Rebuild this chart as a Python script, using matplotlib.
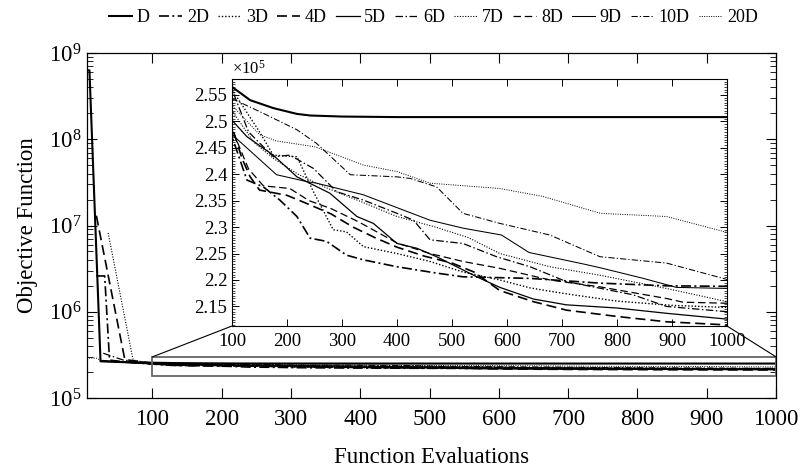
import matplotlib
matplotlib.use("Agg")
import matplotlib.pyplot as plt
import matplotlib.ticker as plticker
from matplotlib.patches import Rectangle, ConnectionPatch

plt.rcParams['font.family'] = ['Liberation Serif', 'DejaVu Serif']
plt.rcParams['mathtext.fontset'] = 'custom'
plt.rcParams['mathtext.rm'] = 'Liberation Serif'
plt.rcParams['mathtext.it'] = 'Liberation Serif:italic'

# function evaluations / objective values
xD = [5, 9, 25, 60, 100, 133, 175, 218, 242, 300, 400, 1000]
yD = [6.3e8, 6.3e8, 2.66e5, 2.6e5, 2.565e5, 2.54e5, 2.525e5, 2.514e5, 2.511e5, 2.509e5, 2.508e5, 2.508e5]

x2D = [19, 31, 38, 60, 100, 127, 157, 187, 218, 242, 272, 308, 339, 400, 436, 472, 520, 642, 769, 890, 1000]
y2D = [2.6e6, 2.6e6, 2.75e5, 2.62e5, 2.471e5, 2.389e5, 2.376e5, 2.351e5, 2.32e5, 2.279e5, 2.273e5,
       2.247e5, 2.238e5, 2.225e5, 2.219e5, 2.213e5, 2.206e5, 2.203e5, 2.194e5, 2.189e5, 2.188e5]

x3D = [25, 60, 100, 125, 150, 175, 218, 248, 284, 308, 339, 400, 460, 520, 587, 642, 700, 800, 900, 1000]
y3D = [2.68e5, 2.6e5, 2.56e5, 2.52e5, 2.48e5, 2.436e5, 2.433e5, 2.367e5, 2.295e5, 2.291e5, 2.263e5,
       2.25e5, 2.235e5, 2.215e5, 2.2e5, 2.185e5, 2.175e5, 2.16e5, 2.152e5, 2.148e5]

x4D = [19, 60, 100, 118, 133, 150, 200, 235, 280, 320, 360, 400, 450, 500, 540, 587, 648, 708, 800, 890, 1000]
y4D = [1.3e7, 2.8e5, 2.49e5, 2.43e5, 2.395e5, 2.37e5, 2.36e5, 2.345e5, 2.325e5, 2.3e5, 2.28e5,
       2.262e5, 2.245e5, 2.232e5, 2.215e5, 2.18e5, 2.159e5, 2.143e5, 2.131e5, 2.121e5, 2.115e5]

x5D = [25, 60, 100, 127, 175, 218, 278, 327, 357, 400, 436, 472, 520, 545, 587, 648, 708, 800, 890, 1000]
y5D = [2.68e5, 2.6e5, 2.502e5, 2.471e5, 2.436e5, 2.395e5, 2.364e5, 2.32e5, 2.307e5, 2.269e5,
       2.26e5, 2.244e5, 2.219e5, 2.206e5, 2.186e5, 2.164e5, 2.153e5, 2.147e5, 2.137e5, 2.126e5]

x6D = [29, 58, 100, 130, 175, 205, 248, 290, 339, 400, 430, 460, 520, 581, 642, 708, 829, 890, 1000]
y6D = [3.3e5, 2.75e5, 2.56e5, 2.48e5, 2.433e5, 2.436e5, 2.411e5, 2.367e5, 2.351e5, 2.326e5,
       2.313e5, 2.276e5, 2.269e5, 2.244e5, 2.225e5, 2.197e5, 2.172e5, 2.15e5, 2.14e5]

x7D = [36, 72, 100, 140, 175, 220, 270, 330, 400, 470, 530, 587, 678, 769, 890, 1000]
y7D = [8.2e6, 2.75e5, 2.52e5, 2.46e5, 2.43e5, 2.4e5, 2.375e5, 2.35e5, 2.32e5, 2.3e5, 2.28e5,
       2.25e5, 2.225e5, 2.209e5, 2.184e5, 2.159e5]

x8D = [25, 60, 100, 130, 157, 205, 240, 280, 330, 400, 460, 520, 587, 678, 769, 890, 920, 1000]
y8D = [2.7e5, 2.62e5, 2.485e5, 2.41e5, 2.378e5, 2.373e5, 2.35e5, 2.335e5, 2.31e5, 2.27e5, 2.25e5,
       2.235e5, 2.222e5, 2.2e5, 2.187e5, 2.165e5, 2.158e5, 2.156e5]

x9D = [25, 60, 100, 181, 236, 254, 339, 412, 460, 520, 590, 640, 740, 770, 848, 908, 1000]
y9D = [2.7e5, 2.58e5, 2.475e5, 2.399e5, 2.386e5, 2.383e5, 2.361e5, 2.332e5, 2.313e5, 2.298e5,
       2.285e5, 2.252e5, 2.23e5, 2.223e5, 2.203e5, 2.186e5, 2.184e5]

x10D = [25, 60, 100, 157, 218, 254, 315, 400, 424, 472, 520, 587, 678, 769, 890, 1000]
y10D = [2.7e5, 2.6e5, 2.543e5, 2.515e5, 2.484e5, 2.458e5, 2.399e5, 2.395e5, 2.392e5, 2.376e5,
        2.326e5, 2.307e5, 2.285e5, 2.244e5, 2.232e5, 2.201e5]

x20D = [5, 19, 25, 60, 100, 150, 180, 250, 340, 400, 460, 587, 665, 770, 890, 1000]
y20D = [2.9e5, 2.9e5, 2.75e5, 2.62e5, 2.53e5, 2.475e5, 2.463e5, 2.452e5, 2.417e5, 2.405e5,
        2.383e5, 2.373e5, 2.358e5, 2.326e5, 2.32e5, 2.29e5]

labels = ['D', '2D', '3D', '4D', '5D', '6D', '7D', '8D', '9D', '10D', '20D']
xs = [xD, x2D, x3D, x4D, x5D, x6D, x7D, x8D, x9D, x10D, x20D]
ys = [yD, y2D, y3D, y4D, y5D, y6D, y7D, y8D, y9D, y10D, y20D]

solid = '-'
dashdot = (0, (6, 2, 1.2, 2))
dotted = (0, (1, 1.4))
dashed = (0, (6, 3))
styles = [solid, dashdot, dotted, dashed] * 2 + [solid, dashdot, dotted]
widths = [1.5, 1.2, 1.0, 1.2, 0.9, 0.9, 0.8, 0.9, 0.75, 0.75, 0.7]

fig = plt.figure(figsize=(8.04, 4.70), dpi=100)
ax = fig.add_axes([0.1078, 0.1532, 0.8574, 0.734])

for x, y, lab, ls, lw in zip(xs, ys, labels, styles, widths):
    ax.plot(x, y, color='k', ls=ls, lw=lw, label=lab)

ax.set_yscale('log')
ax.set_xlim(5, 1000)
ax.set_ylim(1e5, 1e9)
ax.set_xticks(range(100, 1001, 100))
ax.yaxis.set_major_locator(plticker.LogLocator(base=10, numticks=10))
ax.yaxis.set_minor_locator(plticker.LogLocator(base=10, subs=range(2, 10), numticks=20))
ax.yaxis.set_minor_formatter(plticker.NullFormatter())
ax.tick_params(which='both', direction='in', top=True, right=True, labelsize=16.5)
ax.tick_params(which='major', length=7, width=0.8)
ax.tick_params(which='minor', length=4, width=0.6)
ax.tick_params(axis='x', pad=8)
ax.set_xlabel('Function Evaluations', fontsize=16.5, labelpad=12)
ax.set_ylabel('Objective Function', fontsize=16.5, labelpad=8)
for s in ax.spines.values():
    s.set_linewidth(0.9)

# zoom box
ax.add_patch(Rectangle((100, 1.8e5), 900, 1.2e5, fill=False, ec='0.4', lw=1.3, zorder=5))

ins = fig.add_axes([0.2886, 0.3064, 0.6156, 0.5255])
for x, y, ls, lw in zip(xs, ys, styles, widths):
    ins.plot(x, y, color='k', ls=ls, lw=lw)
ins.set_xlim(100, 1000)
ins.set_ylim(2.113e5, 2.58e5)
ins.set_xticks(range(100, 1001, 100))
ins.yaxis.set_major_locator(plticker.MultipleLocator(5000))
ins.yaxis.set_minor_locator(plticker.MultipleLocator(500))
ins.yaxis.set_major_formatter(plticker.FuncFormatter(lambda v, p: '%g' % round(v / 1e5, 3)))
ins.tick_params(which='both', direction='in', top=True, right=True, labelsize=13.5)
ins.tick_params(which='major', length=5, width=0.7)
ins.tick_params(which='minor', length=2.5, width=0.5)
ins.tick_params(axis='x', pad=5)
ins.text(0.0, 1.005, r'$\times10^{5}$', transform=ins.transAxes, fontsize=12, va='bottom', ha='left')

for (xa, ya), (xb, yb) in [((100, 3e5), (0, 0)), ((1000, 3e5), (1, 0))]:
    con = ConnectionPatch(xyA=(xa, ya), coordsA=ax.transData, xyB=(xb, yb), coordsB=ins.transAxes,
                          color='k', lw=0.8)
    fig.add_artist(con)

handles, labs = ax.get_legend_handles_labels()
fig.legend(handles, labs, loc='upper center', bbox_to_anchor=(0.539, 1.015), ncol=11, frameon=False,
           fontsize=13, handlelength=1.3, handletextpad=0.25, columnspacing=0.5)

fig.savefig('out.png', dpi=100)
